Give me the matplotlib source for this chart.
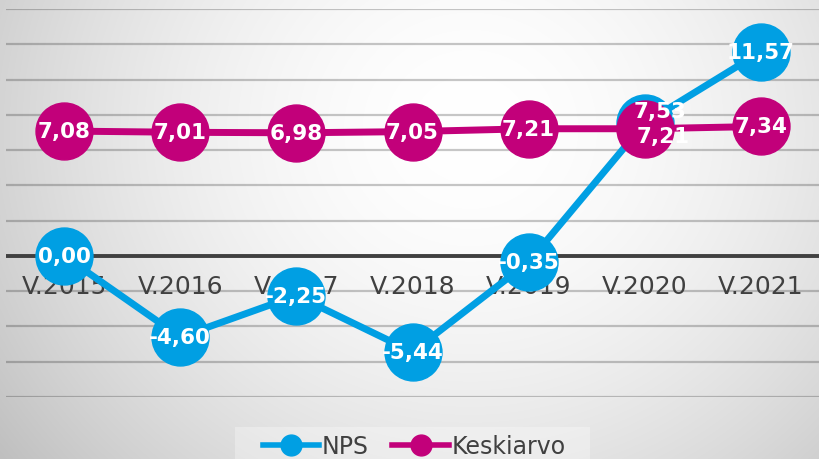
import numpy as np
import matplotlib
matplotlib.use("Agg")
import matplotlib.pyplot as plt
from matplotlib.lines import Line2D
from matplotlib.patches import Rectangle

categories = ["V.2015", "V.2016", "V.2017", "V.2018", "V.2019", "V.2020", "V.2021"]
nps = [0.00, -4.60, -2.25, -5.44, -0.35, 7.53, 11.57]
keskiarvo = [7.08, 7.01, 6.98, 7.05, 7.21, 7.21, 7.34]
series_names = ["NPS", "Keskiarvo"]

BLUE = "#009fe3"
MAGENTA = "#c2007a"
TXT = "#404040"

W, H = 819, 460
fig = plt.figure(figsize=(W / 100, H / 100), dpi=100)

# background gradient
bg = fig.add_axes([0, 0, 1, 1], zorder=-10)
yy, xx = np.mgrid[0:H, 0:W]
d = np.sqrt(((xx - 470) / 520.0) ** 2 + ((yy - 130) / 480.0) ** 2)
val = 1.0 - 0.2 * np.clip(d, 0, 1.15) ** 1.8
img = np.dstack([val, val, val])
bg.imshow(img, aspect="auto", extent=[0, 1, 0, 1], origin="upper")
bg.set_axis_off()
fig.patches.append(Rectangle((235 / W, 0), (590 - 235) / W, (460 - 428) / H,
                             transform=fig.transFigure, facecolor="white",
                             alpha=0.3, edgecolor="none", zorder=-5))

ax = fig.add_axes([6 / W, 1 - 398 / H, 1 - 6 / W, (398 - 10) / H])
ax.patch.set_alpha(0)
x = np.arange(len(categories))
ax.set_xlim(-0.5, len(categories) - 0.5)
ax.set_ylim(-8, 14)
ax.set_yticks(np.arange(-8, 15, 2))
ax.set_xticks([])
ax.tick_params(left=False, labelleft=False)
ax.yaxis.grid(True, color="black", alpha=0.22, lw=1.6)
ax.set_axisbelow(True)
for s in ax.spines.values():
    s.set_visible(False)
ax.axhline(0, color="#404040", lw=2.8, zorder=1)

for i, c in enumerate(categories):
    ax.annotate(c, (i, 0), xytext=(0, -21.6), textcoords="offset points",
                ha="center", va="center", fontsize=18, color=TXT, zorder=1.5)

ax.plot(x, nps, color=BLUE, lw=5, marker="o", ms=41, zorder=3, solid_capstyle="round")
ax.plot(x, keskiarvo, color=MAGENTA, lw=5, marker="o", ms=41, zorder=4, solid_capstyle="round")

def fmt(v):
    return f"{v:.2f}".replace(".", ",")

nps_off = [(0, 0)] * len(categories)
kes_off = [(0, 0)] * len(categories)
nps_off[5] = (11, 9)
kes_off[5] = (13, -5)
for i, v in enumerate(nps):
    ax.annotate(fmt(v), (i, v), xytext=nps_off[i], textcoords="offset points",
                ha="center", va="center", fontsize=15.5, fontweight="bold",
                color="white", zorder=6)
for i, v in enumerate(keskiarvo):
    ax.annotate(fmt(v), (i, v), xytext=kes_off[i], textcoords="offset points",
                ha="center", va="center", fontsize=15.5, fontweight="bold",
                color="white", zorder=6)

handles = [Line2D([], [], color=BLUE, lw=4, marker="o", ms=15),
           Line2D([], [], color=MAGENTA, lw=4, marker="o", ms=15)]
leg = fig.legend(handles, series_names, loc="center", bbox_to_anchor=(414 / W, 1 - 447 / H),
                 ncol=2, frameon=False, fontsize=17, handlelength=2.4, handletextpad=0.1,
                 columnspacing=1.0, borderpad=0.3, labelcolor=TXT)

fig.savefig("out.png", dpi=100)
